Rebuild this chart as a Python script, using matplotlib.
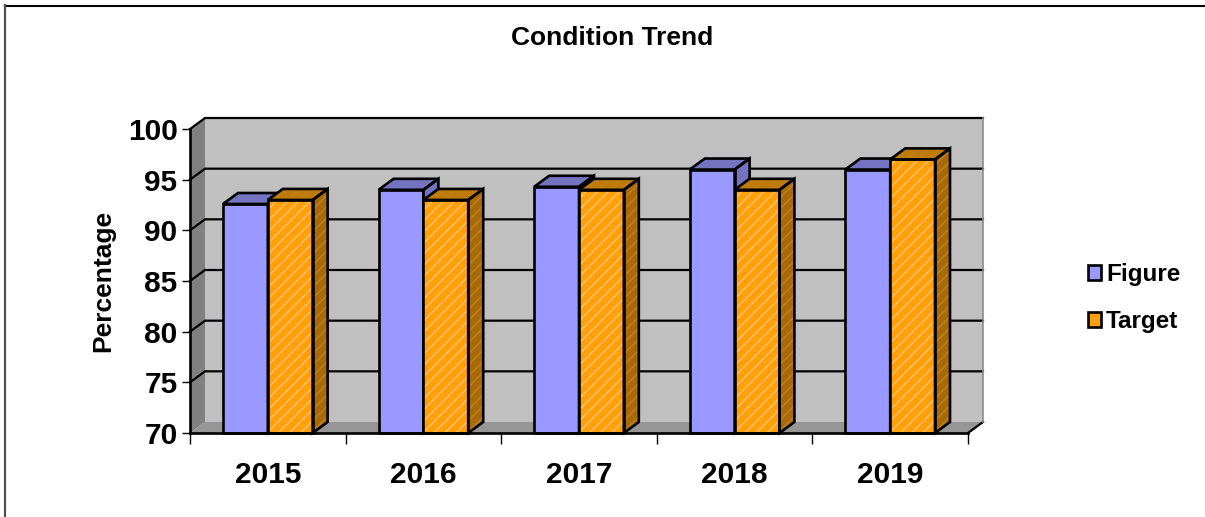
#!/usr/bin/env python
# -*- coding: utf-8 -*-

import matplotlib
matplotlib.use("Agg")
import matplotlib.pyplot as plt
from matplotlib.lines import Line2D
from matplotlib.patches import Patch

years = ['2015', '2016', '2017', '2018', '2019']
figure_vals = [92.6, 94, 94.3, 96, 96]
target_vals = [93, 93, 94, 94, 97]
y_ticks = [70, 75, 80, 85, 90, 95, 100]

W, H = 1205, 517
plt.rcParams['font.family'] = ['Liberation Sans', 'DejaVu Sans']
plt.rcParams['font.weight'] = 'bold'
plt.rcParams['hatch.linewidth'] = 1.2

fig = plt.figure(figsize=(W / 100, H / 100), dpi=100)
ax = fig.add_axes([190 / W, (H - 433) / H, 778 / W, 304 / H])
ax.set_xlim(0, 5)
ax.set_ylim(70, 100)

# depth of the fake 3D, in data units
DX = 15 / (778 / 5)
DY = 11 / (304 / 30)
BAR_W = 0.288
GAP = 0.212
LW = 1.9

# walls
ax.fill([0, DX, 5 + DX, 5], [70, 70 + DY, 70 + DY, 70], fc='#969696', ec='none', clip_on=False, zorder=1)
ax.fill([DX, 5 + DX, 5 + DX, DX], [70 + DY, 70 + DY, 100 + DY, 100 + DY], fc='#c0c0c0', ec='none', clip_on=False, zorder=1)
ax.fill([0, DX, DX, 0], [70, 70 + DY, 100 + DY, 100], fc='#808080', ec='none', clip_on=False, zorder=1)
ax.plot([5 + DX, 5 + DX], [70 + DY, 100 + DY], color='#8c8c8c', lw=1.2, clip_on=False, zorder=2.5)

# gridlines, they fold from the left wall onto the back wall
for v in y_ticks:
    if v == 70:
        continue
    ax.plot([0, DX, 5 + DX], [v, v + DY, v + DY], color='black', lw=1.6, clip_on=False, zorder=2,
            solid_joinstyle='miter')
ax.plot([5, 5 + DX], [70, 70 + DY], color='black', lw=1.6, clip_on=False, zorder=2)


def draw_bar(x0, val, front, side, top, front_hatch=None, side_hatch=None):
    x1 = x0 + BAR_W
    side_x = [x1, x1 + DX, x1 + DX, x1]
    side_y = [70, 70 + DY, val + DY, val]
    top_x = [x0, x0 + DX, x1 + DX, x1]
    top_y = [val, val + DY, val + DY, val]
    if front_hatch:
        ax.fill(side_x, side_y, fc=side, ec=side_hatch, hatch='///', lw=0, clip_on=False, zorder=3)
        ax.fill(top_x, top_y, fc=top, ec=side_hatch, hatch='///', lw=0, clip_on=False, zorder=3)
        ax.bar(x0, val - 70, BAR_W, bottom=70, align='edge', color=front, edgecolor=front_hatch, hatch='///',
               lw=0, clip_on=False, zorder=3)
    else:
        ax.fill(side_x, side_y, fc=side, ec='none', clip_on=False, zorder=3)
        ax.fill(top_x, top_y, fc=top, ec='none', clip_on=False, zorder=3)
        ax.bar(x0, val - 70, BAR_W, bottom=70, align='edge', color=front, lw=0, clip_on=False, zorder=3)
    # outlines
    ax.fill(side_x, side_y, fc='none', ec='black', lw=LW, clip_on=False, zorder=3)
    ax.fill(top_x, top_y, fc='none', ec='black', lw=LW, clip_on=False, zorder=3)
    ax.bar(x0, val - 70, BAR_W, bottom=70, align='edge', color='none', edgecolor='black', lw=LW, clip_on=False, zorder=3)


for i in range(len(years)):
    draw_bar(i + GAP, figure_vals[i], '#9999ff', '#7373c0', '#7373c0')
    draw_bar(i + GAP + BAR_W, target_vals[i], '#ff9f0a', '#a86a08', '#c07a08',
             front_hatch='#ffbe5c', side_hatch='#bd7e1c')

# axes
for s in ['top', 'right']:
    ax.spines[s].set_visible(False)
for s in ['left', 'bottom']:
    ax.spines[s].set_linewidth(1.9)
    ax.spines[s].set_zorder(5)
ax.patch.set_alpha(0)

ax.set_yticks(y_ticks)
ax.set_yticklabels([str(v) for v in y_ticks], fontsize=21.5, fontweight='bold')
ax.tick_params(axis='y', length=6, width=1, pad=3)
ax.set_xticks(range(len(years) + 1))
ax.set_xticklabels([])
ax.tick_params(axis='x', which='major', length=8, width=1)
ax.set_xticks([i + 0.5 for i in range(len(years))], minor=True)
ax.set_xticklabels(years, minor=True, fontsize=21.5, fontweight='bold')
ax.tick_params(axis='x', which='minor', length=0, pad=20)

fig.text(612 / W, 1 - 38 / H, 'Condition Trend', fontsize=19, fontweight='bold', ha='center', va='center')
fig.text(103 / W, 1 - 281 / H, 'Percentage', fontsize=19, fontweight='bold', rotation=90, ha='center', va='center')

handles = [
    Patch(facecolor='#9999ff', edgecolor='black', lw=1.9, label='Figure'),
    Patch(facecolor='#ff9f0a', edgecolor='black', lw=1.9, label='Target'),
]
fig.legend(handles=handles, loc='center left', bbox_to_anchor=(1088 / W, 1 - 298 / H), bbox_transform=fig.transFigure,
           frameon=False, fontsize=17.5, handlelength=0.55, handleheight=0.55, handletextpad=0.2,
           labelspacing=1.0, borderpad=0, borderaxespad=0)

# outer frame, only top and left are visible
fig.add_artist(Line2D([5 / W, 1], [1 - 5.5 / H, 1 - 5.5 / H], color='black', lw=1.5, transform=fig.transFigure))
fig.add_artist(Line2D([5 / W, 5 / W], [0, 1 - 5 / H], color='#505050', lw=1.6, transform=fig.transFigure))

fig.savefig('out.png', dpi=100)
